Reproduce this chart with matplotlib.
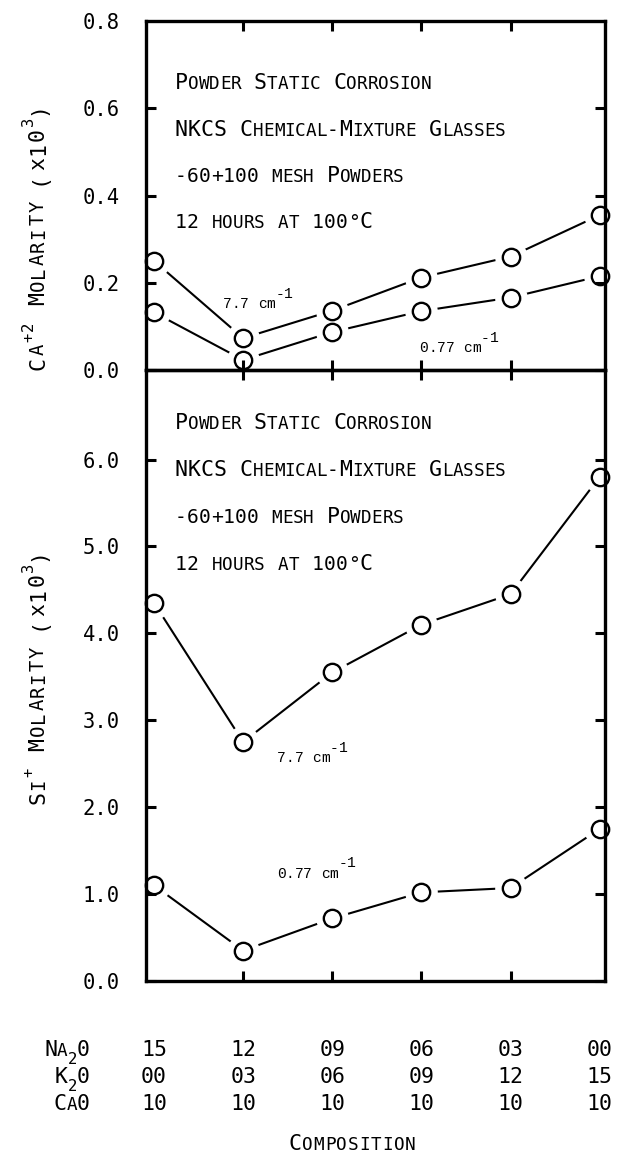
import matplotlib
matplotlib.use("Agg")
import matplotlib.pyplot as plt
import matplotlib.transforms as mtransforms

# ---- data -------------------------------------------------------------
positions = [0, 1, 2, 3, 4, 5]
na2o = ["15", "12", "09", "06", "03", "00"]
k2o = ["00", "03", "06", "09", "12", "15"]
cao = ["10", "10", "10", "10", "10", "10"]

ca_high = [0.25, 0.073, 0.136, 0.212, 0.26, 0.355]    # 7.7 cm^-1
ca_low = [0.132, 0.023, 0.087, 0.135, 0.166, 0.215]   # 0.77 cm^-1
si_high = [4.35, 2.75, 3.55, 4.1, 4.45, 5.8]           # 7.7 cm^-1
si_low = [1.1, 0.35, 0.72, 1.02, 1.07, 1.75]           # 0.77 cm^-1

ca_ticks = [0.0, 0.2, 0.4, 0.6, 0.8]
si_ticks = [0.0, 1.0, 2.0, 3.0, 4.0, 5.0, 6.0]
inner_ticks = [1, 2, 3, 4]

panel_notes = ["Powder Static Corrosion",
               "NKCS Chemical-Mixture Glasses",
               "-60+100 mesh Powders",
               "12 hours at 100\u00b0C"]

# ---- fonts / helpers ----------------------------------------------------
SANS = "DejaVu Sans Mono"
TYPE = "Liberation Mono"
ADV = 0.6021          # monospace advance in em
BIG = 14.8
NOTE = 15.5
LAB = 15.5

W, H = 618, 1160
fig = plt.figure(figsize=(W / 100, H / 100), dpi=100)
fig.patch.set_facecolor("white")


def fx(px):
    return px / W


def fy(py):
    return 1 - py / H


def small_caps(text, big, ratio=0.82, other=0.92):
    runs = []
    for ch in text:
        if ch.islower():
            size = big * ratio
        elif ch.isalpha() or ch == " ":
            size = big
        else:
            size = big * other
        runs.append([ch.upper(), size, 0.0, SANS])
    return runs


def draw_runs(x, y, runs, transform, rotation=0, ha="left", track=0.0):
    """Lay out runs of (text, size, rise, family) along one baseline."""
    items = []
    adv = 0.0
    for text, size, rise, family in runs:
        for ch in text:
            t = fig.text(x, y, ch, transform=transform, fontsize=size,
                         family=family, rotation=rotation,
                         rotation_mode="anchor", ha="left", va="baseline",
                         color="black")
            items.append((t, adv, rise))
            adv += ADV * size + track
    adv -= track
    shift = {"left": 0.0, "center": -adv / 2, "right": -adv}[ha]
    for t, a, rise in items:
        a += shift
        if rotation == 0:
            dx, dy = a, rise
        else:
            dx, dy = -rise, a
        t.set_transform(mtransforms.offset_copy(transform, fig=fig, x=dx, y=dy,
                                                units="points"))
    return items


# ---- axes ---------------------------------------------------------------
L, R = 146, 605
TOP, MID, BOT = 21, 370, 981
ax_top = fig.add_axes([fx(L), fy(MID), (R - L) / W, (MID - TOP) / H])
ax_bot = fig.add_axes([fx(L), fy(BOT), (R - L) / W, (BOT - MID) / H])
ax_bot.patch.set_visible(False)

ax_top.set_ylim(0, 0.793)
ax_bot.set_ylim(0, 7.03)

for ax, ticks in ((ax_top, ca_ticks), (ax_bot, si_ticks)):
    ax.set_xlim(-0.09, 5.06)
    ax.set_axisbelow(False)
    for sp in ax.spines.values():
        sp.set_linewidth(2.4)
    ax.set_xticks(inner_ticks)
    ax.set_yticks(ticks)
    ax.set_yticklabels(["%.1f" % t for t in ticks])
    ax.tick_params(axis="x", which="both", top=True, bottom=True,
                   direction="in", length=7, width=2.2,
                   labelbottom=False, labeltop=False)
    ax.tick_params(axis="y", which="both", left=True, right=True,
                   direction="in", length=7, width=2.2, pad=19,
                   labelsize=BIG)
    for lab in ax.get_yticklabels():
        lab.set_family(SANS)

# no tick marks on the top corner
ax_top.yaxis.get_major_ticks()[-1].tick1line.set_visible(False)
ax_top.yaxis.get_major_ticks()[-1].tick2line.set_visible(False)

# ---- series ---------------------------------------------------------------
for ax, series in ((ax_top, (ca_high, ca_low)), (ax_bot, (si_high, si_low))):
    for vals in series:
        ax.plot(positions, vals, color="black", lw=1.5, zorder=2,
                solid_capstyle="butt")
    for vals in series:
        ax.plot(positions, vals, ls="none", marker="o", ms=23.5,
                mfc="white", mec="none", zorder=2.2, clip_on=False)
    for vals in series:
        ax.plot(positions, vals, ls="none", marker="o", ms=12.5,
                mfc="none", mec="black", mew=1.7, zorder=4, clip_on=False)

# ---- notes inside the panels ------------------------------------------
for ax, y0, step in ((ax_top, 0.643, 0.106), (ax_bot, 6.35, 0.54)):
    tr = mtransforms.blended_transform_factory(ax.transAxes, ax.transData)
    for i, line in enumerate(panel_notes):
        draw_runs(0.063, y0 - i * step, small_caps(line, NOTE), tr)


def wavenumber(ax, x, y, value):
    runs = [[value + " cm", 10.5, 0.0, TYPE], ["-1", 10.5, 7.5, TYPE]]
    draw_runs(x, y, runs, ax.transData)


wavenumber(ax_top, 0.77, 0.141, "7.7")
wavenumber(ax_top, 2.98, 0.041, "0.77")
wavenumber(ax_bot, 1.38, 2.52, "7.7")
wavenumber(ax_bot, 1.38, 1.19, "0.77")

# ---- y labels ------------------------------------------------------------
LS, LP = LAB * 0.88, LAB * 0.72
label_ca = [["C", LAB, 0.0, SANS], ["A", LS, 0.0, SANS],
            ["+2", LP, 8.0, SANS], [" M", LAB, 0.0, SANS],
            ["OLARITY", LS, 0.0, SANS], [" (x10", LAB, 0.0, SANS],
            ["3", LP, 8.0, SANS], [")", LAB, 0.0, SANS]]
label_si = [["S", LAB, 0.0, SANS], ["I", LS, 0.0, SANS],
            ["+", LP, 8.0, SANS], [" M", LAB, 0.0, SANS],
            ["OLARITY", LS, 0.0, SANS], [" (x10", LAB, 0.0, SANS],
            ["3", LP, 8.0, SANS], [")", LAB, 0.0, SANS]]
draw_runs(fx(44), fy(236), label_ca, fig.transFigure, rotation=90,
          ha="center", track=1.2)
draw_runs(fx(44), fy(676), label_si, fig.transFigure, rotation=90,
          ha="center", track=1.2)

# ---- composition table under the x axis ---------------------------------
row_y = [1056, 1083, 1110]
col_tr = mtransforms.blended_transform_factory(ax_bot.transData, fig.transFigure)
for row, yy in zip((na2o, k2o, cao), row_y):
    for xpos, val in zip(positions, row):
        fig.text(xpos, fy(yy), val, transform=col_tr, ha="center",
                 va="baseline", fontsize=15.5, family=SANS)

HS, HP = 15.5 * 0.82, 15.5 * 0.72
row_heads = [
    [["N", 15.5, 0.0, SANS], ["A", HS, 0.0, SANS], ["2", HP, -6.0, SANS],
     ["0", 15.5, 0.0, SANS]],
    [["K", 15.5, 0.0, SANS], ["2", HP, -6.0, SANS], ["0", 15.5, 0.0, SANS]],
    [["C", 15.5, 0.0, SANS], ["A", HS, 0.0, SANS], ["0", 15.5, 0.0, SANS]],
]
for runs, yy in zip(row_heads, row_y):
    draw_runs(fx(90), fy(yy), runs, fig.transFigure, ha="right")

draw_runs(fx(352), fy(1150), small_caps("Composition", 15.5), fig.transFigure,
          ha="center", track=0.6)

fig.savefig("out.png", dpi=100, facecolor="white")
